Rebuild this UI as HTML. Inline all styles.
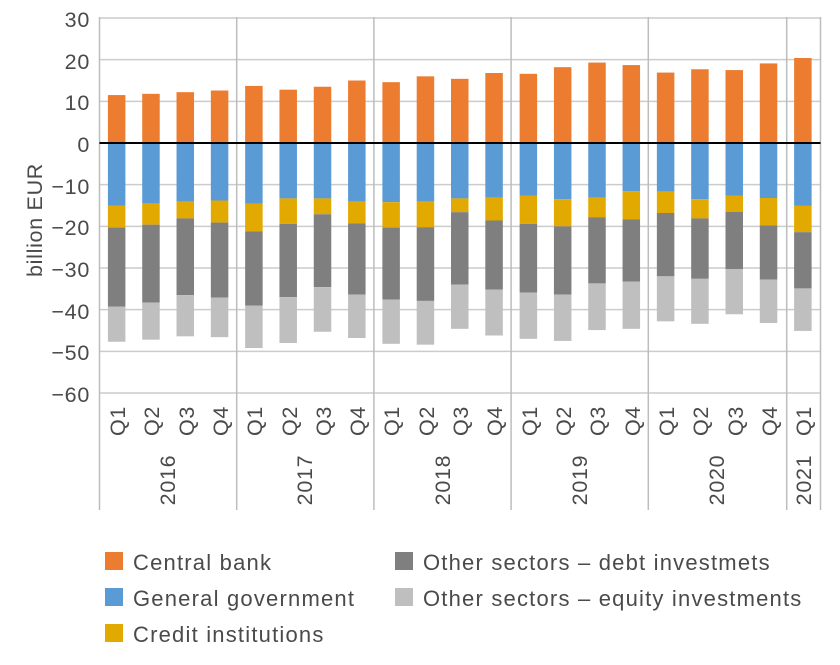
<!DOCTYPE html>
<html><head><meta charset="utf-8"><style>
body{margin:0;background:#fff}
svg text{font-family:"Liberation Sans",sans-serif;fill:#4a4a4a;letter-spacing:0.7px}
svg .lg text{letter-spacing:1.2px}
</style></head><body>
<svg width="840" height="660" xmlns="http://www.w3.org/2000/svg">
<g id="grid" stroke="#cccccc" stroke-width="1.5"></g>
<g id="bars"></g>
<g stroke="#bdbdbd" stroke-width="1.5">
<line x1="99.5" y1="17" x2="99.5" y2="510"/>
<line x1="236.7" y1="17" x2="236.7" y2="510"/>
<line x1="373.9" y1="17" x2="373.9" y2="510"/>
<line x1="511.1" y1="17" x2="511.1" y2="510"/>
<line x1="648.3" y1="17" x2="648.3" y2="510"/>
<line x1="786.7" y1="17" x2="786.7" y2="510"/>
<line x1="820.5" y1="17" x2="820.5" y2="510"/>
</g>
<line x1="99.5" y1="143" x2="820.5" y2="143" stroke="#000" stroke-width="2"/>
<g font-size="21.5" text-anchor="end">
<text x="90" y="27">30</text><text x="90" y="69">20</text><text x="90" y="110">10</text>
<text x="90" y="152">0</text><text x="90" y="194">−10</text><text x="90" y="235">−20</text>
<text x="90" y="277">−30</text><text x="90" y="319">−40</text><text x="90" y="360">−50</text>
<text x="90" y="402">−60</text>
</g>
<text transform="translate(42,220) rotate(-90)" font-size="21.5" text-anchor="middle">billion EUR</text>
<g font-size="21.5" text-anchor="middle">
<text transform="translate(175,480) rotate(-90)">2016</text>
<text transform="translate(312,480) rotate(-90)">2017</text>
<text transform="translate(450,480) rotate(-90)">2018</text>
<text transform="translate(587,480) rotate(-90)">2019</text>
<text transform="translate(724,480) rotate(-90)">2020</text>
<text transform="translate(811,480) rotate(-90)">2021</text>
</g>
<g font-size="22" class="lg">
<rect x="105" y="552" width="18" height="18" fill="#ec7c30"/><text x="133" y="570">Central bank</text>
<rect x="105" y="588" width="18" height="18" fill="#5a9bd5"/><text x="133" y="606">General government</text>
<rect x="105" y="624" width="18" height="18" fill="#e2a900"/><text x="133" y="642">Credit institutions</text>
<rect x="395" y="552" width="18" height="18" fill="#7f7f7f"/><text x="423" y="570">Other sectors – debt investmets</text>
<rect x="395" y="588" width="18" height="18" fill="#bfbfbf"/><text x="423" y="606">Other sectors – equity investments</text>
</g>
<g font-size="21.5" text-anchor="middle">
<text transform="translate(125,421) rotate(-90)">Q1</text>
<text transform="translate(159,421) rotate(-90)">Q2</text>
<text transform="translate(194,421) rotate(-90)">Q3</text>
<text transform="translate(228,421) rotate(-90)">Q4</text>
<text transform="translate(262,421) rotate(-90)">Q1</text>
<text transform="translate(297,421) rotate(-90)">Q2</text>
<text transform="translate(331,421) rotate(-90)">Q3</text>
<text transform="translate(365,421) rotate(-90)">Q4</text>
<text transform="translate(399,421) rotate(-90)">Q1</text>
<text transform="translate(434,421) rotate(-90)">Q2</text>
<text transform="translate(468,421) rotate(-90)">Q3</text>
<text transform="translate(502,421) rotate(-90)">Q4</text>
<text transform="translate(537,421) rotate(-90)">Q1</text>
<text transform="translate(571,421) rotate(-90)">Q2</text>
<text transform="translate(605,421) rotate(-90)">Q3</text>
<text transform="translate(640,421) rotate(-90)">Q4</text>
<text transform="translate(674,421) rotate(-90)">Q1</text>
<text transform="translate(708,421) rotate(-90)">Q2</text>
<text transform="translate(743,421) rotate(-90)">Q3</text>
<text transform="translate(777,421) rotate(-90)">Q4</text>
<text transform="translate(811,421) rotate(-90)">Q1</text>
</g>
<script>
var NS="http://www.w3.org/2000/svg";
function Y(v){return 143-v*125/30;}
var g=document.getElementById("grid");
for(var v=30;v>=-60;v-=10){if(v==0)continue;var l=document.createElementNS(NS,"line");l.setAttribute("x1",99.5);l.setAttribute("x2",820.5);l.setAttribute("y1",Y(v));l.setAttribute("y2",Y(v));g.appendChild(l);}
var d=[[11.5,-15,-20.3,-39.3,-47.7],[11.8,-14.5,-19.6,-38.3,-47.2],[12.2,-14.1,-18.1,-36.5,-46.4],[12.6,-13.8,-19.1,-37.1,-46.6],
[13.7,-14.6,-21.2,-39,-49.2],[12.8,-13.3,-19.4,-37,-48],[13.5,-13.3,-17.1,-34.6,-45.3],[15,-14.1,-19.3,-36.4,-46.8],
[14.6,-14.2,-20.3,-37.6,-48.2],[16,-14.1,-20.2,-37.9,-48.4],[15.4,-13.3,-16.6,-34,-44.6],[16.8,-13.1,-18.6,-35.2,-46.2],
[16.6,-12.6,-19.4,-35.9,-47],[18.2,-13.5,-20,-36.4,-47.5],[19.3,-13.1,-17.8,-33.7,-44.9],[18.7,-11.6,-18.3,-33.3,-44.6],
[16.9,-11.7,-16.8,-32,-42.8],[17.7,-13.5,-18.1,-32.6,-43.4],[17.5,-12.6,-16.5,-30.3,-41.1],[19.1,-13.2,-19.8,-32.8,-43.2],
[20.4,-15.1,-21.4,-34.9,-45.1]];
var c=["#ec7c30","#5a9bd5","#e2a900","#7f7f7f","#bfbfbf"];
var b=document.getElementById("bars");
function R(x,y1,y2,col){var r=document.createElementNS(NS,"rect");r.setAttribute("x",x);r.setAttribute("width",17.5);r.setAttribute("y",Math.min(y1,y2));r.setAttribute("height",Math.abs(y2-y1));r.setAttribute("fill",col);b.appendChild(r);}
for(var i=0;i<21;i++){var x=99.5+34.31*(i+0.5)-8.75;var e=d[i];
R(x,Y(e[0]),Y(0),c[0]);R(x,Y(0),Y(e[1]),c[1]);R(x,Y(e[1]),Y(e[2]),c[2]);R(x,Y(e[2]),Y(e[3]),c[3]);R(x,Y(e[3]),Y(e[4]),c[4]);}
</script>
</svg>
</body></html>
